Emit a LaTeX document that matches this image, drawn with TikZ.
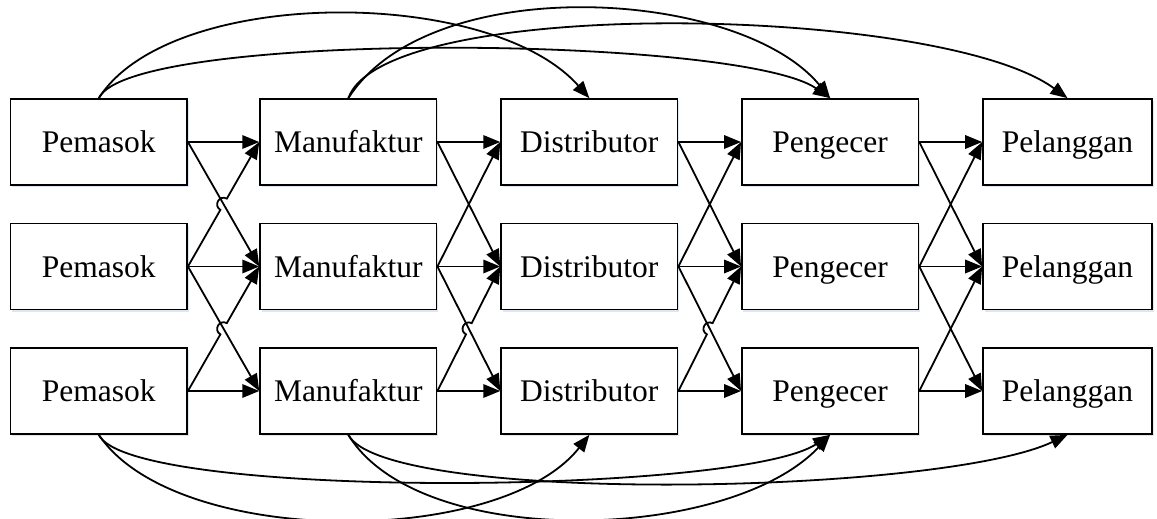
\documentclass[tikz,border=0pt]{standalone}
\usepackage{fontspec}
\setmainfont{Liberation Serif}
\usetikzlibrary{arrows.meta,calc,shadows}
\definecolor{shadowc}{RGB}{214,224,238}
\begin{document}
\begin{tikzpicture}[x=1pt,y=-1pt,
  box/.style={draw=black, line width=1.7pt, fill=white, minimum width=176.5pt,
    minimum height=86pt, inner sep=0pt, text height=24pt, text depth=3pt,
    font=\fontsize{31.5}{36}\selectfont,
    drop shadow={shadow xshift=1.5pt, shadow yshift=-2pt, fill=shadowc, opacity=0.8}},
  conn/.style={line width=1.8pt, -{Triangle[length=17pt,width=13.5pt]}},
  hop/.style={bend left=90, looseness=1.7}
]
\useasboundingbox[fill=white] (0,0) rectangle (1157,519);

% nodes
\foreach \r/\y in {1/142,2/266.5,3/391}{
  \node[box] (P\r) at (98.85,\y) {Pemasok};
  \node[box] (M\r) at (348.35,\y) {Manufaktur};
  \node[box] (D\r) at (589.35,\y) {Distributor};
  \node[box] (G\r) at (830.15,\y) {Pengecer};
  \node[box, minimum width=169pt] (L\r) at (1067.5,\y) {Pelanggan};
}

% straight connectors between adjacent columns
\foreach \a/\b in {P/M,M/D,D/G,G/L}{
  \foreach \r in {1,2,3}{
    \draw[conn] (\a\r.east) -- (\b\r.west);
  }
  \draw[conn] (\a1.east) -- (\b2.west);
  \draw[conn] (\a2.east) -- (\b3.west);
}

% ascending diagonals (with hops where the reference shows them)
\draw[conn] (P2.east) -- ($(P2.east)!0.455!(M1.west)$) to[hop] ($(P2.east)!0.545!(M1.west)$) -- (M1.west);
\draw[conn] (P3.east) -- ($(P3.east)!0.455!(M2.west)$) to[hop] ($(P3.east)!0.545!(M2.west)$) -- (M2.west);
\draw[conn] (M2.east) -- (D1.west);
\draw[conn] (M3.east) -- ($(M3.east)!0.455!(D2.west)$) to[hop] ($(M3.east)!0.545!(D2.west)$) -- (D2.west);
\draw[conn] (D2.east) -- (G1.west);
\draw[conn] (D3.east) -- ($(D3.east)!0.455!(G2.west)$) to[hop] ($(D3.east)!0.545!(G2.west)$) -- (G2.west);
\draw[conn] (G2.east) -- (L1.west);
\draw[conn] (G3.east) -- (L2.west);

% top curves
\draw[conn] (P1.north) .. controls (170,-14) and (490,-14) .. (D1.north);
\draw[conn] (P1.north) .. controls (130,30) and (740,35) .. (G1.north);
\draw[conn] (M1.north) .. controls (430,-30) and (740,-12) .. (G1.north);
\draw[conn] (M1.north) .. controls (385,-5) and (940,5) .. (L1.north);

% bottom curves
\draw[conn] (P3.south) .. controls (175,548) and (500,548) .. (D3.south);
\draw[conn] (P3.south) .. controls (130,500) and (740,495) .. (G3.south);
\draw[conn] (M3.south) .. controls (420,552) and (730,542) .. (G3.south);
\draw[conn] (M3.south) .. controls (385,505) and (940,495) .. (L3.south);
\end{tikzpicture}
\end{document}
